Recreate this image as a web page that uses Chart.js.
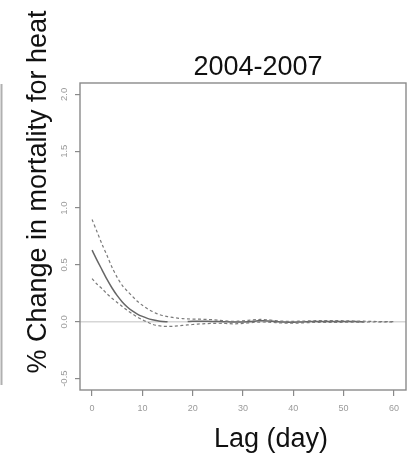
<!DOCTYPE html>
<html>
<head>
<meta charset="utf-8">
<script src="https://cdn.jsdelivr.net/npm/chart.js@4/dist/chart.umd.min.js"></script>
<style>
  html, body { margin: 0; padding: 0; background: #fff; }
  #wrap { width: 407px; height: 455px; position: relative; }
</style>
</head>
<body>
<div id="wrap"><canvas id="c" width="407" height="455"></canvas></div>
<script>
// Lag-response of heat on mortality, 2004-2007
const panelTitle = "2004-2007";
const xTitle = "Lag (day)";
const yTitle = "% Change in mortality for heat";

const lags = [
  0, 1, 2, 3, 4, 5, 6, 7, 8, 9, 10, 11, 12, 13, 14, 15, 16, 17, 18, 19, 20,
  21, 22, 23, 24, 25, 26, 27, 28, 29, 30, 31, 32, 33, 34, 35, 36, 37, 38, 39, 40,
  41, 42, 43, 44, 45, 46, 47, 48, 49, 50, 51, 52, 53, 54, 55, 56, 57, 58, 59, 60
];

// point estimate (solid)
const estimate = [
  0.63, 0.54, 0.455, 0.37, 0.295, 0.23, 0.175, 0.13, 0.095, 0.068, 0.047,
  0.03, 0.018, 0.009, 0.003, 0.0, null, null, null, 0.002, 0.004,
  0.005, 0.005, 0.004, 0.003, 0.002, 0.001, 0.0, -0.002, -0.003, -0.002,
  0.0, 0.004, 0.008, 0.009, 0.007, 0.004, 0.0, -0.003, -0.004, -0.004,
  -0.003, -0.001, 0.001, 0.002, 0.003, 0.003, 0.003, 0.003, 0.003, 0.003,
  0.002, 0.002, 0.001, 0.001, null, null, null, null, null, null
];

// upper 95% limit (dashed)
const upper = [
  0.90, 0.79, 0.68, 0.58, 0.475, 0.39, 0.32, 0.27, 0.225, 0.18, 0.145,
  0.115, 0.09, 0.07, 0.055, 0.045, 0.038, 0.032, 0.028, 0.025, 0.024,
  0.023, 0.022, 0.02, 0.018, 0.015, 0.01, 0.006, 0.004, 0.005, 0.008,
  0.012, 0.016, 0.02, 0.02, 0.017, 0.012, 0.008, 0.005, 0.004, 0.004,
  0.005, 0.006, 0.008, 0.009, 0.01, 0.01, 0.01, 0.01, 0.01, 0.009,
  0.008, 0.007, 0.006, 0.005, 0.004, 0.003, 0.002, 0.002, 0.002, 0.002
];

// lower 95% limit (dashed)
const lower = [
  0.38, 0.33, 0.29, 0.245, 0.205, 0.17, 0.135, 0.10, 0.07, 0.042, 0.018,
  -0.003, -0.022, -0.033, -0.039, -0.041, -0.04, -0.036, -0.032, -0.028, -0.024,
  -0.02, -0.018, -0.016, -0.014, -0.013, -0.014, -0.016, -0.018, -0.017, -0.014,
  -0.01, -0.006, -0.003, -0.002, -0.003, -0.006, -0.009, -0.011, -0.012, -0.012,
  -0.011, -0.009, -0.007, -0.006, -0.005, -0.005, -0.005, -0.005, -0.005, -0.004,
  -0.004, -0.004, -0.003, -0.003, -0.002, -0.002, -0.002, -0.002, -0.002, -0.002
];

const xTickValues = [0, 10, 20, 30, 40, 50, 60];
const yTickValues = [-0.5, 0.0, 0.5, 1.0, 1.5, 2.0];
const yTickLabels = ["-0.5", "0.0", "0.5", "1.0", "1.5", "2.0"];
const xRange = [-2.4, 62.4];
const yRange = [-0.6, 2.1];
const refLine = 0;

const FONT = "'Liberation Sans', Arial, Helvetica, sans-serif";

function pts(ys) {
  return lags.map((x, i) => ({ x: x, y: ys[i] }));
}

const decorations = {
  id: 'decorations',
  beforeDatasetsDraw(chart) {
    const { ctx, chartArea: a, scales } = chart;
    const y0 = scales.y.getPixelForValue(refLine);
    ctx.save();
    ctx.strokeStyle = '#d6d6d6';
    ctx.lineWidth = 1.5;
    ctx.beginPath();
    ctx.moveTo(a.left, y0);
    ctx.lineTo(a.right, y0);
    ctx.stroke();
    ctx.restore();
  },
  afterDraw(chart) {
    const { ctx, chartArea: a, scales } = chart;
    ctx.save();
    // plot frame
    ctx.strokeStyle = '#8a8a8a';
    ctx.lineWidth = 1.4;
    ctx.strokeRect(a.left, a.top, a.right - a.left, a.bottom - a.top);

    // edge of the neighbouring panel
    ctx.strokeStyle = '#b0b0b0';
    ctx.lineWidth = 2;
    ctx.beginPath();
    ctx.moveTo(1.5, a.top + 1);
    ctx.lineTo(1.5, 385);
    ctx.stroke();

    // rotated y tick labels
    ctx.fillStyle = '#9a9a9a';
    ctx.font = '9.5px ' + FONT;
    ctx.textAlign = 'center';
    ctx.textBaseline = 'middle';
    yTickValues.forEach((v, i) => {
      const py = scales.y.getPixelForValue(v);
      ctx.save();
      ctx.translate(64, py);
      ctx.rotate(-Math.PI / 2);
      ctx.fillText(yTickLabels[i], 0, 0);
      ctx.restore();
    });

    // titles
    ctx.fillStyle = '#111';
    ctx.font = '27px ' + FONT;
    ctx.textAlign = 'center';
    ctx.textBaseline = 'alphabetic';
    ctx.fillText(panelTitle, 258, 75);
    ctx.fillText(xTitle, 271, 447);

    ctx.save();
    ctx.translate(46, 192);
    ctx.rotate(-Math.PI / 2);
    ctx.fillText(yTitle, 0, 0);
    ctx.restore();

    ctx.restore();
  }
};

new Chart(document.getElementById('c'), {
  type: 'line',
  data: {
    datasets: [
      {
        label: 'upper',
        data: pts(upper),
        borderColor: '#7a7a7a',
        borderWidth: 1.2,
        borderDash: [3, 2.5],
        pointRadius: 0,
        tension: 0.3,
        fill: false
      },
      {
        label: 'lower',
        data: pts(lower),
        borderColor: '#7a7a7a',
        borderWidth: 1.2,
        borderDash: [3, 2.5],
        pointRadius: 0,
        tension: 0.3,
        fill: false
      },
      {
        label: 'estimate',
        data: pts(estimate),
        borderColor: '#666',
        borderWidth: 1.5,
        pointRadius: 0,
        tension: 0.3,
        spanGaps: false,
        fill: false
      }
    ]
  },
  options: {
    responsive: false,
    animation: false,
    devicePixelRatio: 1,
    layout: { padding: { left: 0, top: 83, right: 1, bottom: 0 } },
    plugins: {
      legend: { display: false },
      tooltip: { enabled: false },
      title: { display: false }
    },
    scales: {
      x: {
        type: 'linear',
        min: xRange[0],
        max: xRange[1],
        afterBuildTicks(scale) {
          scale.ticks = xTickValues.map(v => ({ value: v }));
        },
        afterFit(scale) { scale.height = 65; },
        border: { display: false },
        grid: {
          drawOnChartArea: false,
          drawTicks: true,
          tickLength: 6,
          color: '#8a8a8a',
          lineWidth: 1.2
        },
        ticks: {
          padding: 7,
          maxRotation: 0,
          color: '#9a9a9a',
          font: { family: FONT, size: 9 },
          callback: v => String(v)
        }
      },
      y: {
        type: 'linear',
        min: yRange[0],
        max: yRange[1],
        afterBuildTicks(scale) {
          scale.ticks = yTickValues.map(v => ({ value: v }));
        },
        afterFit(scale) { scale.width = 80; },
        border: { display: false },
        grid: {
          drawOnChartArea: false,
          drawTicks: true,
          tickLength: 5,
          color: '#8a8a8a',
          lineWidth: 1.2
        },
        ticks: { display: false }
      }
    }
  },
  plugins: [decorations]
});
</script>
</body>
</html>
